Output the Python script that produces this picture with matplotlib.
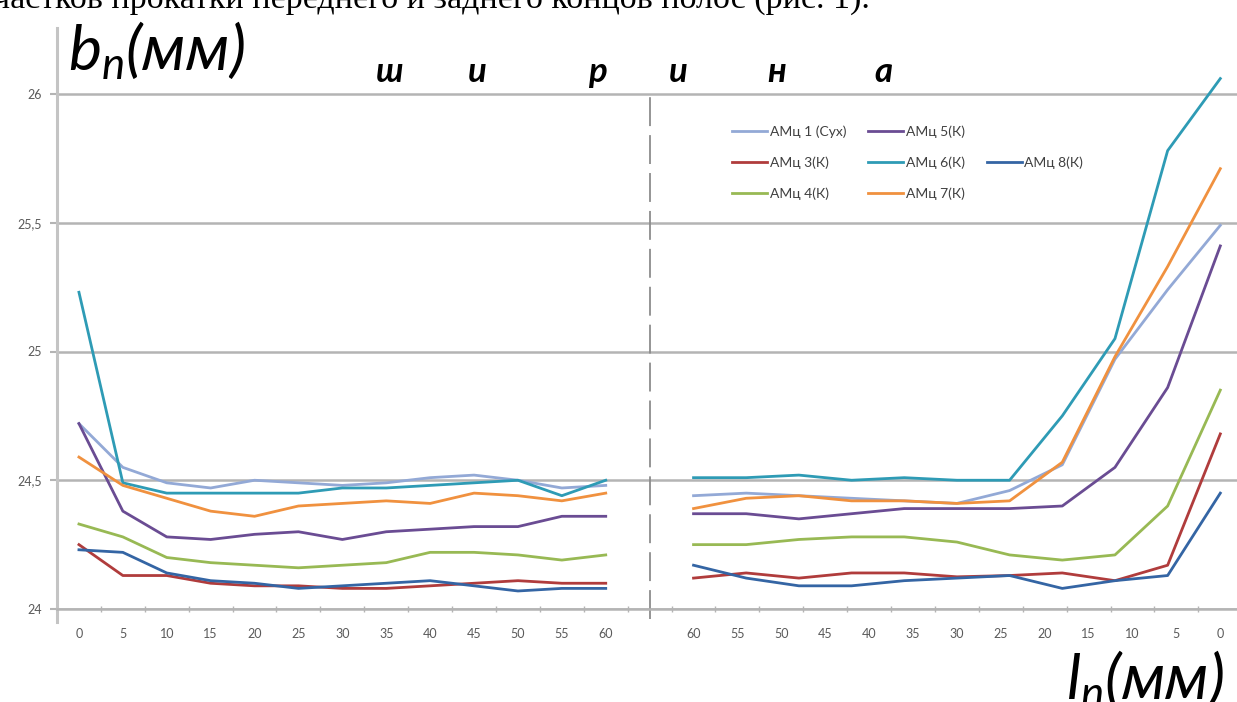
import matplotlib
matplotlib.use('Agg')
import matplotlib.pyplot as plt
import numpy as np
from matplotlib.lines import Line2D

W, H = 1237, 702
plt.rcParams['font.family'] = ['Lato', 'DejaVu Sans']
plt.rcParams['mathtext.fontset'] = 'custom'
plt.rcParams['mathtext.it'] = 'Lato:italic'
plt.rcParams['mathtext.rm'] = 'Lato'

# ---- data ----
left_labels = ['0', '5', '10', '15', '20', '25', '30', '35', '40', '45', '50', '55', '60']
right_labels = ['60', '55', '50', '45', '40', '35', '30', '25', '20', '15', '10', '5', '0']
y_ticks = [24, 24.5, 25, 25.5, 26]
y_tick_labels = ['24', '24,5', '25', '25,5', '26']

names = ['АМц 1 (Сух)', 'АМц 3(К)', 'АМц 4(К)', 'АМц 5(К)', 'АМц 6(К)', 'АМц 7(К)', 'АМц 8(К)']

amc1_left = [24.72, 24.55, 24.49, 24.47, 24.50, 24.49, 24.48, 24.49, 24.51, 24.52, 24.50, 24.47, 24.48]
amc3_left = [24.25, 24.13, 24.13, 24.10, 24.09, 24.09, 24.08, 24.08, 24.09, 24.10, 24.11, 24.10, 24.10]
amc4_left = [24.33, 24.28, 24.20, 24.18, 24.17, 24.16, 24.17, 24.18, 24.22, 24.22, 24.21, 24.19, 24.21]
amc5_left = [24.72, 24.38, 24.28, 24.27, 24.29, 24.30, 24.27, 24.30, 24.31, 24.32, 24.32, 24.36, 24.36]
amc6_left = [25.23, 24.49, 24.45, 24.45, 24.45, 24.45, 24.47, 24.47, 24.48, 24.49, 24.50, 24.44, 24.50]
amc7_left = [24.59, 24.48, 24.43, 24.38, 24.36, 24.40, 24.41, 24.42, 24.41, 24.45, 24.44, 24.42, 24.45]
amc8_left = [24.23, 24.22, 24.14, 24.11, 24.10, 24.08, 24.09, 24.10, 24.11, 24.09, 24.07, 24.08, 24.08]

amc1_right = [24.44, 24.45, 24.44, 24.43, 24.42, 24.41, 24.46, 24.56, 24.97, 25.24, 25.49]
amc3_right = [24.12, 24.14, 24.12, 24.14, 24.14, 24.125, 24.13, 24.14, 24.11, 24.17, 24.68]
amc4_right = [24.25, 24.25, 24.27, 24.28, 24.28, 24.26, 24.21, 24.19, 24.21, 24.40, 24.85]
amc5_right = [24.37, 24.37, 24.35, 24.37, 24.39, 24.39, 24.39, 24.40, 24.55, 24.86, 25.41]
amc6_right = [24.51, 24.51, 24.52, 24.50, 24.51, 24.50, 24.50, 24.75, 25.05, 25.78, 26.06]
amc7_right = [24.39, 24.43, 24.44, 24.42, 24.42, 24.41, 24.42, 24.57, 24.98, 25.33, 25.71]
amc8_right = [24.17, 24.12, 24.09, 24.09, 24.11, 24.12, 24.13, 24.08, 24.11, 24.13, 24.45]

left_series = [amc1_left, amc3_left, amc4_left, amc5_left, amc6_left, amc7_left, amc8_left]
right_series = [amc1_right, amc3_right, amc4_right, amc5_right, amc6_right, amc7_right, amc8_right]
colors = ['#93A9D6', '#B03C3C', '#98B954', '#6A4C93', '#2E9BB5', '#F0913F', '#3465A4']

# ---- figure ----
fig = plt.figure(figsize=(W / 100, H / 100), dpi=100)
ax_top, ax_bot = 28, 609
ax = fig.add_axes([57 / W, (H - ax_bot) / H, (W - 57) / W, (ax_bot - ax_top) / H])
ymax = 24 + (ax_bot - ax_top) / ((609 - 94) / 2.0)
ax.set_ylim(24, ymax)
ax.set_xlim(-0.5, 26.38)

n_left = len(left_labels)
x_left = np.arange(n_left)
x_right_cat = np.arange(n_left + 1, n_left + 1 + len(right_labels))
x_right = np.linspace(x_right_cat[0], x_right_cat[-1], len(amc1_right))

handles = []
for name, c, yl, yr in zip(names, colors, left_series, right_series):
    h, = ax.plot(x_left, yl, color=c, lw=2.0, label=name, zorder=3, solid_joinstyle='round')
    ax.plot(x_right, yr, color=c, lw=2.0, zorder=3, solid_joinstyle='round')
    handles.append(h)

# gridlines
ax.set_yticks(y_ticks)
ax.set_yticklabels(y_tick_labels)
ax.yaxis.grid(True, color='#B4B4B4', lw=1.8, zorder=0)
ax.set_axisbelow(True)

ax.set_xticks(list(x_left) + list(x_right_cat))
ax.set_xticklabels(left_labels + right_labels)
ax.set_xticks(np.arange(0.5, 26, 1.0), minor=True)
ax.tick_params(axis='x', which='major', length=0, pad=14, labelsize=9, labelcolor='#5A5A5A')
ax.tick_params(axis='x', which='minor', length=5, direction='inout', color='#B4B4B4', width=1)
ax.tick_params(axis='y', which='major', length=5, direction='out', color='#B4B4B4', width=1.5,
               labelsize=9, labelcolor='#5A5A5A', pad=6)

for s in ['top', 'right']:
    ax.spines[s].set_visible(False)
ax.spines['left'].set_color('#C4C4C4')
ax.spines['left'].set_linewidth(2.2)
ax.spines['bottom'].set_color('#B4B4B4')
ax.spines['bottom'].set_linewidth(1.8)
ax.plot([-0.5, -0.5], [24, 23.95], color='#C4C4C4', lw=2.2, clip_on=False, zorder=2)

# dashed separator
ax.plot([n_left, n_left], [23.96, 26.0], color='#8C8C8C', lw=1.3,
        linestyle=(0, (16, 5)), clip_on=False, zorder=2)

# legend
blank = Line2D([], [], color='none')
leg_handles = [handles[0], handles[1], handles[2], handles[3], handles[4], handles[5], blank, handles[6], blank]
leg_labels = [names[0], names[1], names[2], names[3], names[4], names[5], '', names[6], '']
leg = ax.legend(leg_handles, leg_labels, ncol=3, loc='upper left',
                bbox_to_anchor=(732 / W, 1 - 125 / H), bbox_transform=fig.transFigure,
                frameon=False, fontsize=10, handlelength=2.5, handletextpad=0.2,
                columnspacing=1.6, labelspacing=1.34, borderpad=0, borderaxespad=0)
for t in leg.get_texts():
    t.set_color('#404040')

# texts
fig.text(68 / W, 1 - 70 / H, r'$b_n$(мм)', fontsize=45, style='italic', va='baseline', ha='left')
fig.text(1224 / W, 1 - 699 / H, r'$l_n$(мм)', fontsize=45, style='italic', va='baseline', ha='right')
for ch, xp in zip(['ш', 'и', 'р', 'и', 'н', 'а'], [390, 477, 597, 678, 777, 883]):
    fig.text(xp / W, 1 - 82 / H, ch, fontsize=25, style='italic', weight='bold',
             va='baseline', ha='center')
fig.text(870 / W, 1 - 8 / H, 'участков прокатки переднего и заднего концов полос (рис. 1).',
         fontsize=24.5, family='Liberation Serif', va='baseline', ha='right')

fig.savefig('out.png', dpi=100, facecolor='white')
